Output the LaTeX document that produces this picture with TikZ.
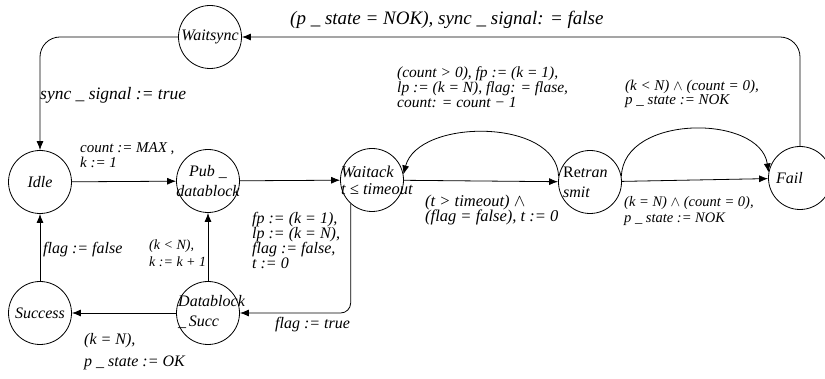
\documentclass[tikz,border=0pt]{standalone}
\usepackage{fontspec}
\setmainfont{Liberation Serif}
\usetikzlibrary{arrows.meta}

\begin{document}
\begin{tikzpicture}[x=1pt,y=-1pt]
	\tikzstyle{every node}+=[inner sep=0pt]
	\tikzstyle{state}=[draw, circle, minimum size=63pt, line width=0.8pt, font=\itshape\fontsize{16}{18}\selectfont]
	\tikzstyle{stxt}=[font=\itshape\fontsize{16}{18}\selectfont]
	\tikzstyle{arr}=[-{Latex[length=9pt,width=7pt]}, line width=0.8pt]
	\tikzstyle{lbl}=[anchor=west, align=left, font=\itshape\fontsize{15}{16}\selectfont]
	\useasboundingbox (0,0) rectangle (825,379);
	% states
	\node [state] (waitsync) at (210,37) {Waitsync};
	\node [state] (idle) at (40,182) {Idle};
	\node [state] (pub) at (208,181) {};
	\node [stxt, align=center, font=\itshape\fontsize{16}{20}\selectfont] (pubt) at (pub) {Pub \_\\datablock};
	\node [state] (waitack) at (372,180) {};
	\node [stxt, anchor=west, align=left, font=\itshape\fontsize{16.5}{17}\selectfont] (waitackt) at (341,180) {Waitack\\t ≤ timeout};
	\node [state] (retr) at (590,182) {};
	\node [stxt, anchor=west, align=left, font=\fontsize{16}{20}\selectfont] (retrt) at (563,182) {Re\textit{tran}\\\textit{smit}};
	\node [state] (fail) at (800,178) {};
	\node [stxt, anchor=west] (failt) at (776,178) {Fail};
	\node [state] (success) at (40,313) {Success};
	\node [state] (dbsucc) at (208,313) {};
	\node [stxt, anchor=west, align=left, font=\itshape\fontsize{16}{20}\selectfont] (dbsucct) at (178,312) {Datablock\\\_\,Succ};
	% transitions
	\draw [arr, rounded corners=20pt] (waitsync.west) -| (idle.north);
	\draw [arr, rounded corners=20pt] (fail.north) |- (waitsync.east);
	\draw [arr] (idle) -- (pub);
	\draw [arr] (pub) -- (waitack);
	\draw [arr] (waitack) -- (retr);
	\draw [arr] (retr.170) .. controls (557,118) and (418,118) .. (waitack.10);
	\draw [arr] (retr.10) .. controls (623,114) and (760,114) .. (fail.170);
	\draw [arr] (retr) -- (fail);
	\draw [arr, rounded corners=10pt] (waitack.228) |- (dbsucc.east);
	\draw [arr] (dbsucc) -- (pub);
	\draw [arr] (dbsucc) -- (success);
	\draw [arr] (success) -- (idle);
	% labels
	\node [lbl, font=\itshape\fontsize{19}{22}\selectfont] (lsyncfalse) at (290,20) {(p \_ state = NOK), sync \_ signal: = false};
	\node [lbl, font=\itshape\fontsize{17.5}{20}\selectfont] (lsynctrue) at (40,95) {sync \_ signal := true};
	\node [lbl, font=\itshape\fontsize{15}{15}\selectfont] (lcount) at (80,155) {count := MAX ,\\k := 1};
	\node [lbl, font=\itshape\fontsize{15.5}{12.5}\selectfont] (lretry) at (397,87) {(count > 0), fp := (k = 1),\\lp := (k = N), flag: = flase,\\count: = count − 1};
	\node [lbl, font=\itshape\fontsize{15}{12.5}\selectfont] (lnokless) at (625,94) {(k < N) $\wedge$ (count = 0),\\p \_ state := NOK};
	\node [lbl, font=\itshape\fontsize{16.5}{15.5}\selectfont] (ltimeout) at (425,210) {(t > timeout) $\wedge$\\(flag = false), t := 0};
	\node [lbl, font=\itshape\fontsize{14.5}{16.5}\selectfont] (lnokeq) at (624,211) {(k = N) $\wedge$ (count = 0),\\p \_ state := NOK};
	\node [lbl, font=\itshape\fontsize{16}{15}\selectfont] (lreset) at (252,240) {fp := (k = 1),\\lp := (k = N),\\flag := false,\\t := 0};
	\node [lbl, font=\itshape\fontsize{16}{18}\selectfont] (ltrue) at (275,325) {flag := true};
	\node [lbl, font=\itshape\fontsize{14}{17}\selectfont] (lnext) at (149,253) {(k < N),\\k := k + 1};
	\node [lbl, font=\itshape\fontsize{16}{18}\selectfont] (lfalse) at (43,250) {flag := false};
	\node [lbl, font=\itshape\fontsize{16}{22}\selectfont] (ldone) at (84,352) {(k = N),\\p \_ state := OK};
\end{tikzpicture}
\end{document}
